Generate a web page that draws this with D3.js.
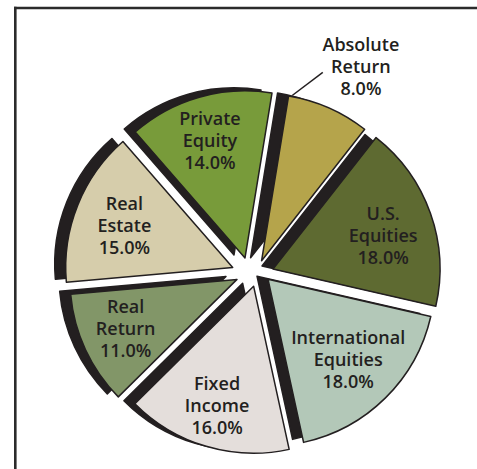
<!DOCTYPE html>
<html><head><meta charset="utf-8">
<script src="https://cdn.jsdelivr.net/npm/d3@7"></script>
<style>html,body{margin:0;padding:0;background:#fff;} svg{display:block;}</style>
</head><body>
<svg id="chart" width="477" height="469"></svg>
<script>
// ---- data ----
const categories = ["Absolute Return","U.S. Equities","International Equities","Fixed Income","Real Return","Real Estate","Private Equity"];
const values = [8.0, 18.0, 18.0, 16.0, 11.0, 15.0, 14.0];
const labelLines = [["Absolute","Return"],["U.S.","Equities"],["International","Equities"],["Fixed","Income"],["Real","Return"],["Real","Estate"],["Private","Equity"]];
const colors = ["#b5a44b","#5e6a31","#b3c8b8","#e4dedb","#829668","#d6cdab","#789b3a"];

// ---- layout / style ----
const explode = [[8.6,-10.7],[20,-2.4],[15,7.8],[0.6,14.8],[-16,8],[-20.3,-4],[-8,-13.5]];
const labelRadius = [218,115,114,125,122,116,122];
const labelAngleShift = [3.4,2.8,0,0.5,0.8,-1,-0.8];
const ink = "#231f20";
const cx = 253, cy = 271.4, R = 167;
const shadowDX = -11, shadowDY = -3;
const startDeg = 9.3;

const svg = d3.select("#chart");
const rad = d => d * Math.PI / 180;

// frame
svg.append("line").attr("x1",15.3).attr("x2",15.3).attr("y1",6.8).attr("y2",469)
  .attr("stroke","#2b2b2b").attr("stroke-width",2.6);
svg.append("line").attr("x1",14).attr("x2",477).attr("y1",8).attr("y2",8)
  .attr("stroke","#2b2b2b").attr("stroke-width",2.6);

const data = categories.map((c,i)=>({cat:c, value:values[i], idx:i}));
const pie = d3.pie().sort(null).value(d=>d.value)
  .startAngle(rad(startDeg)).endAngle(rad(startDeg)+2*Math.PI);
const arcs = pie(data);
const arc = d3.arc().innerRadius(0).outerRadius(R);

const g = svg.append("g").attr("transform",`translate(${cx},${cy})`);

// shadows
g.selectAll("path.shadow").data(arcs).join("path")
  .attr("class","shadow")
  .attr("transform",d=>`translate(${explode[d.index][0]+shadowDX},${explode[d.index][1]+shadowDY})`)
  .attr("d",arc)
  .attr("fill",ink).attr("stroke",ink).attr("stroke-width",1.5).attr("stroke-linejoin","round");

// slices
g.selectAll("path.slice").data(arcs).join("path")
  .attr("class","slice")
  .attr("transform",d=>`translate(${explode[d.index][0]},${explode[d.index][1]})`)
  .attr("d",arc)
  .attr("fill",d=>colors[d.index]).attr("stroke",ink).attr("stroke-width",1.5).attr("stroke-linejoin","round");

// leader line for Absolute Return
const a0 = arcs[0];
const p1 = d3.pointRadial(a0.startAngle + rad(1.2), R + 1);
const p2 = d3.pointRadial(a0.startAngle + rad(8.7), R + 31);
g.append("line")
  .attr("x1",explode[0][0]+p1[0]).attr("y1",explode[0][1]+p1[1])
  .attr("x2",explode[0][0]+p2[0]).attr("y2",explode[0][1]+p2[1])
  .attr("stroke",ink).attr("stroke-width",1.5);

// labels
const fmt = d3.format(".1f");
arcs.forEach(d=>{
  const i = d.index;
  const mid = (d.startAngle + d.endAngle)/2 + rad(labelAngleShift[i]);
  const p = d3.pointRadial(mid, labelRadius[i]);
  const x = explode[i][0] + p[0], y = explode[i][1] + p[1];
  const lines = labelLines[i].concat([fmt(d.data.value) + "%"]);
  const t = g.append("text")
    .attr("text-anchor","middle")
    .attr("font-family","'Open Sans', 'Noto Sans', sans-serif")
    .attr("font-weight",600)
    .attr("font-size",18)
    .attr("fill",ink);
  lines.forEach((s,k)=>{
    t.append("tspan").attr("x",x).attr("y",y + (k-1)*22 + 6).text(s);
  });
});
</script>
</body></html>
